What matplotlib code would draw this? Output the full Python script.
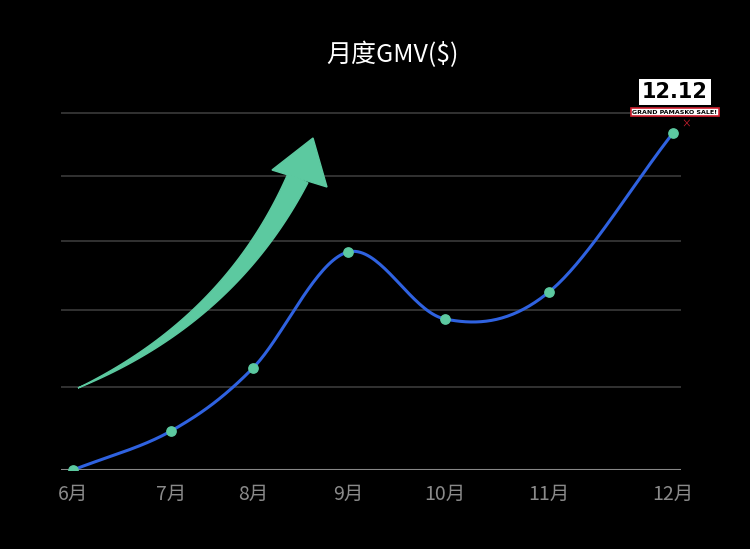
import numpy as np
import matplotlib
matplotlib.use("Agg")
import matplotlib.pyplot as plt
from matplotlib.patches import Polygon

plt.rcParams['font.family'] = ['Noto Sans CJK SC', 'DejaVu Sans']

months = ['6月', '7月', '8月', '9月', '10月', '11月', '12月']
month_pos = [0, 0.98, 1.8, 2.75, 3.72, 4.76, 6.0]
gmv = [0, 39, 102, 218, 151, 178, 337]
grid_levels = [83, 160, 229, 294, 357]

W, H = 750, 549
fig = plt.figure(figsize=(W/100, H/100), dpi=100, facecolor='black')
ax = fig.add_axes([61/W, 79/H, 620/W, 360/H], facecolor='black')
x = np.array(month_pos)
ax.set_xlim(-0.12, 6.08)
ax.set_ylim(0, 360)

pts = np.column_stack([x, gmv]).astype(float)
ext = np.vstack([2*pts[0]-pts[1], pts, 2*pts[-1]-pts[-2]])
cx, cy = [], []
for i in range(1, len(ext)-2):
    p0, p1, p2, p3 = ext[i-1], ext[i], ext[i+1], ext[i+2]
    t = np.linspace(0, 1, 40)[:, None]
    c = 0.5*((2*p1) + (-p0+p2)*t + (2*p0-5*p1+4*p2-p3)*t**2 + (-p0+3*p1-3*p2+p3)*t**3)
    cx.extend(c[:, 0]); cy.extend(c[:, 1])
for g in grid_levels:
    ax.axhline(g, color='#3a3a3a', lw=1.2, zorder=1)
ax.axhline(0, color='#888888', lw=1.5, zorder=1)
ax.plot(cx, cy, color='#2f62e0', lw=2.2, zorder=3)
ax.scatter(x, gmv, s=45, color='#5cc9a0', zorder=4)

ax.set_xticks(x)
ax.set_xticklabels(months, color='#8a8a8a', fontsize=14)
ax.tick_params(axis='x', length=0, pad=10)
ax.set_yticks([])
for s in ax.spines.values():
    s.set_visible(False)

fig.text(393/W, 1-55/H, '月度GMV($)', color='white', fontsize=18, ha='center', va='center')

def fp(px, py):
    return (px/W, 1-py/H)
t = np.linspace(0, 1, 60)
P0, P1, P2 = np.array([78, 388]), np.array([230, 320]), np.array([298, 178])
B = ((1-t)**2)[:, None]*P0 + (2*(1-t)*t)[:, None]*P1 + (t**2)[:, None]*P2
d = np.gradient(B, axis=0)
n = np.column_stack([-d[:, 1], d[:, 0]])
n /= np.linalg.norm(n, axis=1)[:, None]
w = 11*t
upper = B + n*w[:, None]
lower = B - n*w[:, None]
body = np.vstack([upper, lower[::-1]])
fig.patches.append(Polygon([fp(*p) for p in body], closed=True, transform=fig.transFigure,
                           color='#5cc9a0', zorder=2))
head = [(272, 170), (313, 138), (327, 187)]
fig.patches.append(Polygon([fp(*p) for p in head], closed=True, transform=fig.transFigure,
                           color='#5cc9a0', zorder=2))

# 12.12 badge
fig.text(675/W, 1-92/H, '12.12', color='black', fontsize=15, fontweight='bold',
         ha='center', va='center', family='DejaVu Sans',
         bbox=dict(boxstyle='square,pad=0.15', fc='white', ec='none'))
fig.text(675/W, 1-112/H, 'GRAND PAMASKO SALE!', color='black', fontsize=4.5, fontweight='bold',
         ha='center', va='center', family='DejaVu Sans',
         bbox=dict(boxstyle='square,pad=0.3', fc='white', ec='#d02030', lw=1.2))
fig.text(686/W, 1-124/H, '×', color='#d02030', fontsize=7, ha='center', va='center')

fig.savefig('out.png', dpi=100, facecolor='black')
